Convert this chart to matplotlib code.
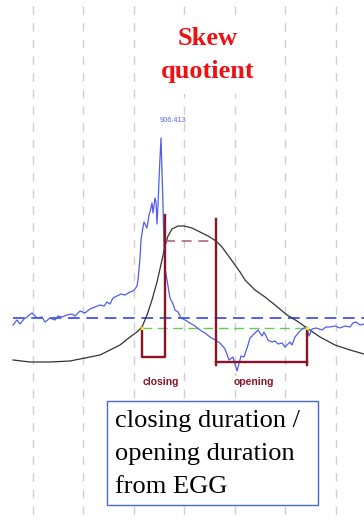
import matplotlib
matplotlib.use("Agg")
import matplotlib.pyplot as plt

# all values in picture units (x = time, y = level, y grows downward)
grid_x = [33, 83, 134, 184, 235, 285, 336]

dEGG_t = [13, 17, 20, 24, 27, 32, 37, 42, 45, 50, 55, 58, 62, 67, 72, 75, 80, 85, 90,
          95, 100, 104, 107, 110, 113, 117, 121, 125, 130, 133, 135, 137, 138, 140, 141,
          143, 144, 146, 147, 149, 150, 152, 153, 155, 156, 157, 158, 159, 160, 161, 162,
          163, 164, 165, 167, 170, 173, 175, 178, 181, 185, 190, 195, 200, 205, 210, 215,
          220, 225, 229, 233, 237, 241, 244, 248, 250, 254, 258, 262, 264, 268, 272, 275,
          278, 282, 285, 290, 292, 295, 300, 304, 307, 309, 312, 316, 322, 326, 330, 335,
          340, 345, 350, 353, 356, 360, 364]
dEGG_v = [325, 320, 324, 319, 317, 313, 318, 317, 322, 318, 320, 316, 317, 315, 314, 316,
          311, 313, 309, 307, 305, 306, 302, 304, 298, 296, 294, 295, 292, 291, 289, 286,
          280, 258, 240, 227, 222, 226, 228, 215, 212, 203, 213, 198, 202, 224, 205, 180,
          158, 138, 172, 205, 248, 268, 280, 298, 304, 310, 312, 318, 320, 323, 326, 330,
          333, 337, 340, 343, 349, 360, 357, 371, 356, 357, 345, 338, 334, 330, 336, 332,
          340, 342, 341, 344, 343, 347, 342, 345, 337, 331, 328, 328, 336, 329, 328, 330,
          327, 327, 326, 328, 326, 327, 323, 322, 325, 324]

egg_t = [13, 30, 50, 70, 90, 100, 110, 120, 130, 137, 142, 147, 152, 157, 162, 165, 168,
         172, 178, 184, 192, 200, 208, 216, 222, 230, 240, 245, 255, 265, 275, 287, 297,
         307, 320, 335, 350, 364]
egg_v = [360, 362, 362, 361, 357, 355, 350, 345, 337, 332, 327, 315, 300, 282, 260, 246,
         236, 229, 226, 226, 228, 232, 236, 241, 247, 258, 272, 280, 290, 297, 305, 315,
         321, 328, 337, 345, 350, 354]

peak_label = "906.413"
threshold_dEGG = 318
threshold_egg = 328
closing = (142, 165)
opening = (216, 307)
closing_top, opening_top = 215, 219
closing_bottom, opening_bottom = 357, 362
mid_level = 241

dark_red = "#8b1424"

fig = plt.figure(figsize=(3.64, 5.21), dpi=100)
ax = fig.add_axes([0, 0, 1, 1])
ax.set_xlim(0, 364)
ax.set_ylim(521, 0)
ax.axis("off")

ax.vlines(grid_x, 6, 521, colors="#cfcfcf", lw=1, linestyles=(0, (6, 6)), zorder=0)

ax.text(208, 55, "Skew\nquotient", ha="center", va="center", color="#ee1111",
        family="Liberation Serif", weight="bold", fontsize=19, linespacing=1.55,
        bbox=dict(fc="white", ec="none", pad=8), zorder=1)

ax.axhline(threshold_dEGG, xmin=13 / 364, color="#3344ee", lw=1.2, dashes=(7, 4), zorder=2)
ax.plot([closing[0], opening[1]], [threshold_egg] * 2, color="#66cc55", lw=1,
        dashes=(7, 4), zorder=2)

ax.plot(egg_t, egg_v, color="#333333", lw=0.9, zorder=3)
ax.plot(dEGG_t, dEGG_v, color="#4f5cee", lw=0.9, zorder=4)
ax.text(173, 120, peak_label, ha="center", va="center", color="#5566ee", fontsize=5.3,
        family="Liberation Sans")

ax.plot([closing[1], opening[0]], [mid_level] * 2, color="#b06878", lw=1.2,
        dashes=(6, 4), zorder=5)

# closing bracket
ax.plot([closing[0], closing[0], closing[1], closing[1]],
        [threshold_egg, closing_bottom, closing_bottom, closing_top],
        color=dark_red, lw=1.7, zorder=6)
# opening bracket
ax.plot([opening[0], opening[0]], [opening_top, opening_bottom + 3], color=dark_red, lw=1.7, zorder=6)
ax.plot([opening[0], opening[1]], [opening_bottom] * 2, color=dark_red, lw=1.7, zorder=6)
ax.plot([opening[1], opening[1]], [threshold_egg, opening_bottom + 3], color=dark_red, lw=1.7, zorder=6)

ax.plot([closing[0], opening[1]], [threshold_egg] * 2, ls="none", marker="o", ms=2.5,
        color="#eeee33", mec="none", zorder=7)

ax.text(sum(closing) / 2 + 7, 382, "closing", ha="center", va="center", color=dark_red,
        fontsize=7.5, weight="bold", family="Liberation Sans")
ax.text(254, 382, "opening", ha="center", va="center", color=dark_red,
        fontsize=7.5, weight="bold", family="Liberation Sans",
        bbox=dict(fc="white", ec="none", pad=0.5))

box = plt.Rectangle((107, 401), 211, 104, fc="white", ec="#4466dd", lw=1, zorder=8)
ax.add_patch(box)
ax.text(115, 454, "closing duration /\nopening duration\nfrom EGG", ha="left", va="center",
        fontsize=19, family="Liberation Serif", color="black", linespacing=1.62, zorder=9)

fig.savefig("out.png", dpi=100)
